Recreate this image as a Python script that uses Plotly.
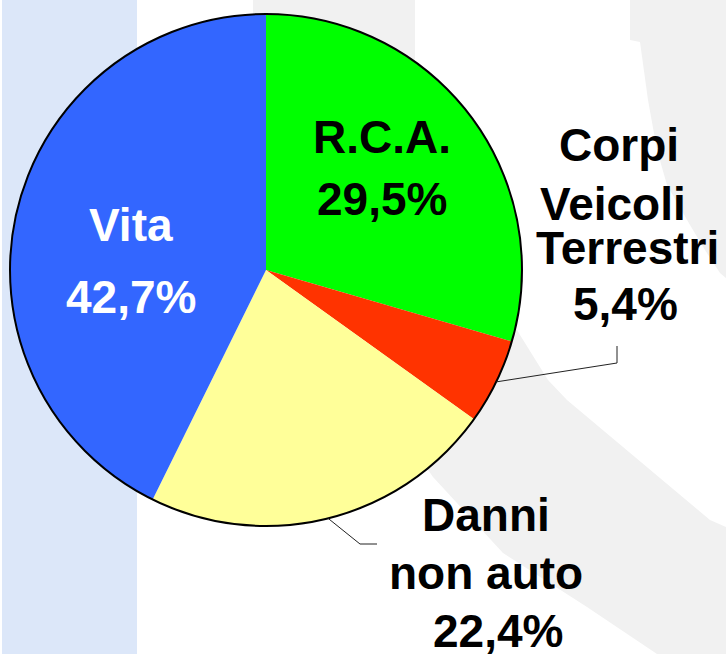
import math
import plotly.graph_objects as go

# ---- data ----
categories = ["R.C.A.", "Corpi Veicoli Terrestri", "Danni non auto", "Vita"]
shares = [29.5, 5.4, 22.4, 42.7]
label_lines = [["R.C.A.", "29,5%"],
               ["Corpi", "Veicoli", "Terrestri", "5,4%"],
               ["Danni", "non auto", "22,4%"],
               ["Vita", "42,7%"]]
slice_colors = ["#00FF00", "#FF3300", "#FFFF99", "#3366FF"]
text_colors = ["black", "black", "black", "white"]

W, H = 726, 654
FONT = "Liberation Sans, Arial, sans-serif"


def px(x):
    return x / W


def py(y):
    return 1 - y / H


# pie placement (pixels)
cx, cy, R = 266, 270, 256
dom_x = [px(cx - R), px(cx + R)]
dom_y = [py(cy + R), py(cy - R)]

fig = go.Figure()
fig.add_trace(go.Pie(
    labels=categories, values=shares, sort=False, direction="clockwise",
    rotation=0, marker=dict(colors=slice_colors, line=dict(width=0)),
    textinfo="none", hoverinfo="label+percent", showlegend=False,
    domain=dict(x=dom_x, y=dom_y)))
# outer outline
fig.add_trace(go.Pie(
    labels=["tot"], values=[sum(shares)], sort=False,
    marker=dict(colors=["rgba(0,0,0,0)"], line=dict(color="black", width=2)),
    textinfo="none", hoverinfo="skip", showlegend=False,
    domain=dict(x=dom_x, y=dom_y)))

# ---- background decoration ----
shapes = []


def poly(points, color):
    path = "M " + " L ".join(f"{px(x)},{py(y)}" for x, y in points) + " Z"
    return dict(type="path", path=path, xref="paper", yref="paper",
                fillcolor=color, line=dict(width=0), layer="below")


shapes.append(poly([(2, 0), (137, 0), (137, H), (2, H)], "#DCE7F9"))
shapes.append(poly([(253, 0), (415, 0), (415, 150), (253, 150)], "#F1F1F1"))
shapes.append(poly([(630, 0), (726, 0), (726, 278), (720, 273), (705, 250),
                    (690, 225), (667, 185), (657, 150), (648, 100),
                    (640, 42), (630, 40)], "#F1F1F1"))
shapes.append(poly([(470, 250), (520, 335), (548, 380), (567, 400),
                    (710, 520), (726, 527), (726, H), (657, H), (587, 607),
                    (503, 553), (433, 477), (380, 400), (380, 300)], "#F1F1F1"))

# ---- leader lines (start on the slice mid-angle) ----
cum = 0
mids = []
tot = sum(shares)
for v in shares:
    mids.append((cum + v / 2) / tot * 360)
    cum += v


def edge_point(angle_deg):
    a = math.radians(angle_deg)
    return cx + R * math.sin(a), cy - R * math.cos(a)


def polyline(points):
    path = "M " + " L ".join(f"{px(x)},{py(y)}" for x, y in points)
    return dict(type="path", path=path, xref="paper", yref="paper",
                line=dict(color="#222222", width=1), layer="above")


sx, sy = edge_point(mids[1])
shapes.append(polyline([(sx, sy), (617, 363), (617, 346)]))
sx, sy = edge_point(mids[2])
shapes.append(polyline([(sx, sy), (360, 544), (377, 544)]))

# ---- labels ----
label_pos = [
    [(382, 136.5), (382, 199)],
    [(619, 145.5), (613, 204), (627, 248), (625, 303.5)],
    [(486, 514.5), (486, 572.5), (498, 631)],
    [(131, 225), (131, 297)],
]
annotations = []
for lines, poss, col in zip(label_lines, label_pos, text_colors):
    for t, (x, y) in zip(lines, poss):
        annotations.append(dict(
            text=t, x=px(x), y=py(y), xref="paper", yref="paper",
            xanchor="center", yanchor="middle", showarrow=False,
            font=dict(family=FONT, size=46, color=col, weight="bold")))

fig.update_layout(
    width=W, height=H, margin=dict(l=0, r=0, t=0, b=0),
    paper_bgcolor="white", plot_bgcolor="white",
    shapes=shapes, annotations=annotations, showlegend=False)

fig.write_html("out.html",
               config={"displayModeBar": False},
               post_script="document.body.style.margin='0';"
                           "document.body.style.overflow='hidden';")
